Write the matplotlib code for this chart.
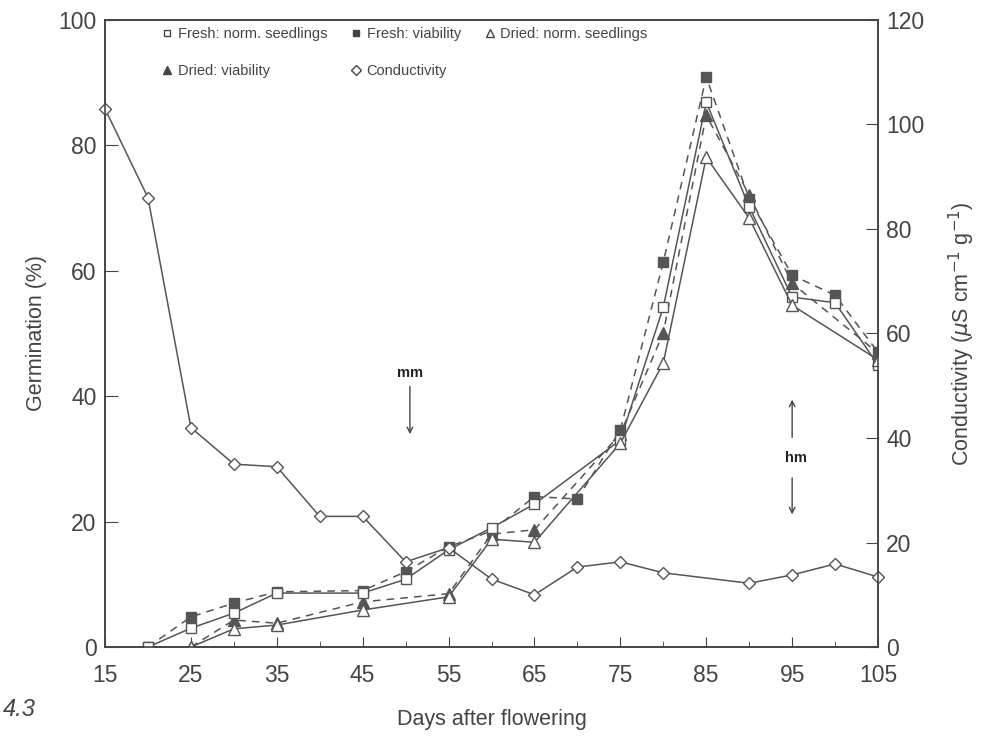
import matplotlib.pyplot as plt
from matplotlib.lines import Line2D

# Dados (dias após o florescimento)
days_fresh_norm = [20, 25, 30, 35, 45, 50, 55, 60, 65, 75, 80, 85, 90, 95, 100, 105]
fresh_norm = [0, 3, 5.4, 8.6, 8.6, 10.8, 15.5, 19, 22.8, 33, 54.2, 86.9, 70.2, 55.8, 54.9, 45]

days_fresh_viab = [20, 25, 30, 35, 45, 50, 55, 60, 65, 70, 75, 80, 85, 90, 95, 100, 105]
fresh_viab = [0, 4.8, 7, 8.8, 9, 12, 16, 18.5, 24, 23.6, 34.6, 61.4, 90.9, 71.5, 59.3, 56.1, 47]

days_dried = [25, 30, 35, 45, 55, 60, 65, 75, 80, 85, 90, 95, 105]
dried_norm = [0, 2.9, 3.5, 5.9, 8, 17.2, 16.7, 32.5, 45.3, 78.1, 68.4, 54.5, 45.8]
dried_viab = [0, 4.3, 3.8, 7.2, 8.5, 18, 18.7, 34, 50.1, 84.8, 72.1, 58, 46.9]

days_cond = [15, 20, 25, 30, 35, 40, 45, 50, 55, 60, 65, 70, 75, 80, 90, 95, 100, 105]
conductivity = [103, 86, 42, 35, 34.5, 25, 25, 16.3, 19, 13, 10, 15.3, 16.3, 14.2, 12.2, 13.8, 15.9, 13.4]

x_ticks = [15, 25, 35, 45, 55, 65, 75, 85, 95, 105]

plt.rcParams['font.family'] = ['Liberation Sans', 'DejaVu Sans']
ink = "#444444"
line_c = "#555555"

fig = plt.figure(figsize=(9.86, 7.54), dpi=100)
ax = fig.add_axes([0.1065, 0.1419, 0.784, 0.8316])
ax2 = ax.twinx()

ms = 7
ax.plot(days_fresh_norm, fresh_norm, color=line_c, lw=1.1, marker="s", ms=ms,
        mfc="white", mec=line_c, label="Fresh: norm. seedlings", zorder=4)
ax.plot(days_fresh_viab, fresh_viab, color=line_c, lw=1.1, ls=(0, (5, 4)), marker="s", ms=ms,
        mfc="#555555", mec=line_c, label="Fresh: viability", zorder=3)
ax.plot(days_dried, dried_norm, color=line_c, lw=1.1, marker="^", ms=ms + 1,
        mfc="white", mec=line_c, label="Dried: norm. seedlings", zorder=4)
ax.plot(days_dried, dried_viab, color=line_c, lw=1.1, ls=(0, (5, 4)), marker="^", ms=ms + 1,
        mfc="#555555", mec=line_c, label="Dried: viability", zorder=3)
ax2.plot(days_cond, conductivity, color=line_c, lw=1.1, marker="D", ms=6,
         mfc="white", mec=line_c, label="Conductivity", clip_on=False)

ax.set_xlim(15, 105)
ax.set_ylim(0, 100)
ax2.set_ylim(0, 120)
ax.set_xticks(x_ticks)
ax.set_xticks(range(20, 105, 10), minor=True)
ax.set_yticks(range(0, 101, 20))
ax2.set_yticks(range(0, 121, 20))

ax.tick_params(axis="x", which="major", direction="in", length=7, labelsize=16.5, colors=ink, pad=12)
ax.tick_params(axis="x", which="minor", direction="in", length=4, colors=ink)
ax.tick_params(axis="y", direction="in", length=9, labelsize=16.5, colors=ink, pad=6)
ax2.tick_params(axis="y", direction="in", length=9, labelsize=16.5, colors=ink, pad=6)
for a in (ax, ax2):
    for s in a.spines.values():
        s.set_color(ink)
        s.set_linewidth(1.2)

ax.set_xlabel("Days after flowering", fontsize=15.5, color=ink, labelpad=16)
ax.set_ylabel("Germination (%)", fontsize=15.5, color=ink, labelpad=8)
ax2.set_ylabel(r"Conductivity ($\mu$S cm$^{-1}$ g$^{-1}$)", fontsize=15.5, color=ink, labelpad=16)

# Legenda em duas linhas, sem linhas, apenas marcadores
handles = [
    Line2D([], [], ls="none", marker="s", ms=5, mfc="white", mec=ink),
    Line2D([], [], ls="none", marker="^", ms=6, mfc=ink, mec=ink),
    Line2D([], [], ls="none", marker="s", ms=5, mfc=ink, mec=ink),
    Line2D([], [], ls="none", marker="D", ms=5, mfc="white", mec=ink),
    Line2D([], [], ls="none", marker="^", ms=6, mfc="white", mec=ink),
]
labels = ["Fresh: norm. seedlings", "Dried: viability", "Fresh: viability",
          "Conductivity", "Dried: norm. seedlings"]
leg = ax.legend(handles, labels, ncol=3, loc="upper left", bbox_to_anchor=(0.06, 1.005),
                frameon=False, fontsize=10.5, handlelength=0.8, handletextpad=0.3,
                columnspacing=1.6, labelspacing=1.6, borderaxespad=0.3)
for t in leg.get_texts():
    t.set_color(ink)

# Setas de maturidade
arrow = dict(arrowstyle="->", color=ink, lw=1.0)
ax.text(50.5, 43.7, "mm", ha="center", va="center", fontsize=10.5, color="#222222", fontweight="bold")
ax.annotate("", xy=(50.5, 33.5), xytext=(50.5, 42.0), arrowprops=arrow)
ax.text(95.5, 30.1, "hm", ha="center", va="center", fontsize=10.5, color="#222222", fontweight="bold")
ax.annotate("", xy=(95.0, 39.9), xytext=(95.0, 33.0), arrowprops=arrow)
ax.annotate("", xy=(95.0, 20.7), xytext=(95.0, 27.4), arrowprops=arrow)

fig.text(0.003, 0.05, "4.3", fontsize=17, color=ink, style="italic")

fig.savefig("out.png", dpi=100)
